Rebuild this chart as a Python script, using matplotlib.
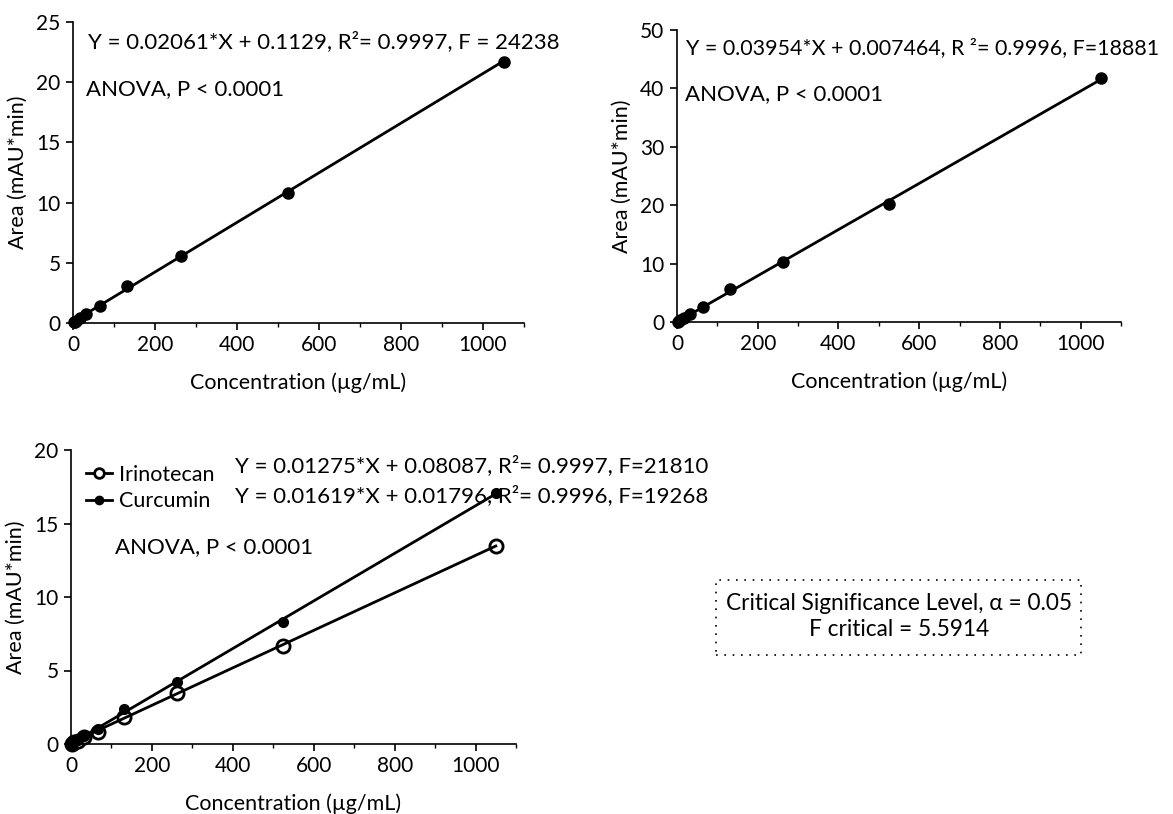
import matplotlib
matplotlib.use("Agg")
import matplotlib.pyplot as plt
from matplotlib.patches import Rectangle
import numpy as np

plt.rcParams['font.family'] = ['Lato', 'DejaVu Sans']

# Calibration standards (µg/mL)
conc = [2.05, 4.1, 8.2, 16.4, 32.8, 65.6, 131.25, 262.5, 525, 1050]

# Peak areas (mAU*min)
area_irinotecan_single = [0.05, 0.1, 0.2, 0.4, 0.75, 1.45, 3.05, 5.55, 10.8, 21.7]
area_curcumin_single = [0.08, 0.15, 0.3, 0.6, 1.3, 2.5, 5.7, 10.2, 20.2, 41.7]
area_irinotecan_mix = [0.03, 0.06, 0.12, 0.22, 0.45, 0.85, 1.85, 3.45, 6.7, 13.45]
area_curcumin_mix = [0.04, 0.08, 0.15, 0.28, 0.55, 1.0, 2.35, 4.2, 8.3, 17.1]

# Regression fits (slope, intercept)
fit_irinotecan_single = (0.02061, 0.1129)
fit_curcumin_single = (0.03954, 0.007464)
fit_irinotecan_mix = (0.01275, 0.08087)
fit_curcumin_mix = (0.01619, 0.01796)

W, H = 1173, 814
fig = plt.figure(figsize=(W / 100, H / 100), dpi=100)


def px_axes(left, top, right, bottom):
    return fig.add_axes([left / W, 1 - bottom / H, (right - left) / W, (bottom - top) / H])


def style(ax, ymax, ystep):
    ax.set_xlim(0, 1100)
    ax.set_ylim(0, ymax)
    ax.set_xticks(np.arange(0, 1001, 200))
    ax.set_xticks(np.arange(100, 1101, 200), minor=True)
    ax.set_yticks(np.arange(0, ymax + 0.1, ystep))
    for s in ['top', 'right']:
        ax.spines[s].set_visible(False)
    for s in ['left', 'bottom']:
        ax.spines[s].set_linewidth(1.2)
    ax.tick_params(axis='both', which='major', direction='out', length=5, width=1.2,
                   labelsize=15, pad=4)
    ax.tick_params(axis='x', which='minor', direction='out', length=3, width=1.0)
    ax.set_xlabel('Concentration (µg/mL)', fontsize=15.5, labelpad=12)
    ax.set_ylabel('Area (mAU*min)', fontsize=15.5, labelpad=6)
    ax.spines['left'].set_bounds(0, ymax)


def fit_line(ax, fit, x, **kw):
    xs = np.array([min(x), max(x)])
    ax.plot(xs, fit[0] * xs + fit[1], color='black', lw=2, **kw)


# Top-left panel
ax1 = px_axes(73, 22, 524, 323)
style(ax1, 25, 5)
fit_line(ax1, fit_irinotecan_single, conc)
ax1.plot(conc, area_irinotecan_single, 'o', color='black', ms=8, clip_on=False)
fig.text(88 / W, 1 - 42 / H, 'Y = 0.02061*X + 0.1129, R²= 0.9997, F = 24238',
         fontsize=16, va='center', ha='left')
fig.text(86 / W, 1 - 89 / H, 'ANOVA, P < 0.0001', fontsize=16, va='center', ha='left')

# Top-right panel
ax2 = px_axes(677, 30, 1121, 322)
style(ax2, 50, 10)
fit_line(ax2, fit_curcumin_single, conc)
ax2.plot(conc, area_curcumin_single, 'o', color='black', ms=8, clip_on=False)
fig.text(686 / W, 1 - 48 / H, 'Y = 0.03954*X + 0.007464, R ²= 0.9996, F=18881',
         fontsize=15.4, va='center', ha='left')
fig.text(685 / W, 1 - 94 / H, 'ANOVA, P < 0.0001', fontsize=16, va='center', ha='left')

# Bottom panel: both analytes in the mixture
ax3 = px_axes(71, 450, 516, 744)
style(ax3, 20, 5)
ax3.plot(conc, area_irinotecan_mix, 'o', mfc='white', mec='black', mew=2,
         ms=9.5, clip_on=False)
ax3.plot(conc, area_curcumin_mix, 'o', color='black', ms=7, clip_on=False)
fit_line(ax3, fit_irinotecan_mix, conc)
fit_line(ax3, fit_curcumin_mix, conc)
h1, = ax3.plot([], [], '-o', color='black', lw=2, mfc='white', mec='black', mew=2, ms=7)
h2, = ax3.plot([], [], '-o', color='black', lw=2, ms=6)
ax3.legend([h1, h2], ['Irinotecan', 'Curcumin'], loc='upper left',
           bbox_to_anchor=(75 / W, 1 - 454 / H), bbox_transform=fig.transFigure,
           frameon=False, fontsize=15.5, handlelength=1.2, handletextpad=0.35,
           labelspacing=0.3, borderpad=0)
fig.text(235 / W, 1 - 466 / H, 'Y = 0.01275*X + 0.08087, R²= 0.9997, F=21810',
         fontsize=16, va='center', ha='left')
fig.text(235 / W, 1 - 496 / H, 'Y = 0.01619*X + 0.01796, R²= 0.9996, F=19268',
         fontsize=16, va='center', ha='left')
fig.text(115 / W, 1 - 547 / H, 'ANOVA, P < 0.0001', fontsize=16, va='center', ha='left')

# Critical value box
fig.patches.append(Rectangle((716 / W, 1 - 655 / H), (1081 - 716) / W, (655 - 580) / H,
                             transform=fig.transFigure, fill=False, ec='black',
                             lw=1.2, ls=(0, (1, 4))))
fig.text(899 / W, 1 - 604 / H, 'Critical Significance Level, α = 0.05',
         fontsize=16.3, ha='center', va='center')
fig.text(899 / W, 1 - 629 / H, 'F critical = 5.5914', fontsize=16.3, ha='center', va='center')

fig.savefig('out.png', dpi=100)
